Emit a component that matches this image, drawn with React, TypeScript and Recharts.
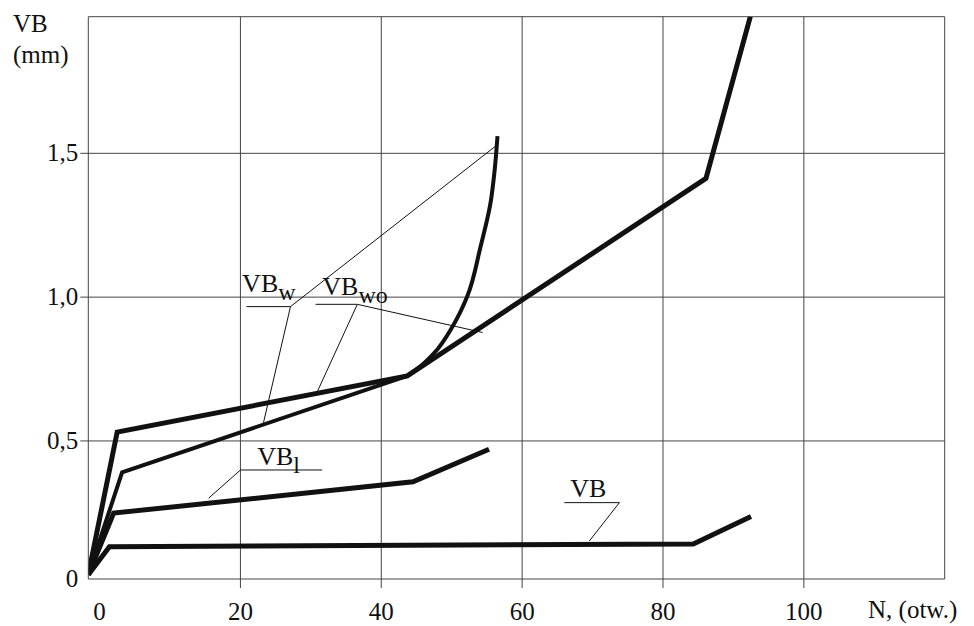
import { Line, LineChart, ReferenceDot, ReferenceLine, XAxis, YAxis } from 'recharts'

const FONT = "'Liberation Serif', 'Times New Roman', Times, Tinos, 'Noto Serif', 'DejaVu Serif', FreeSerif, serif"
const INK = '#111'
const GRID = '#444'

// wear curves, N (holes) vs VB (mm)
const VB_X = [-1.6, 1.4, 84.3, 92.5]
const VB_Y = [0.035, 0.132, 0.142, 0.237]

const VBL_X = [-1.6, 2.0, 44.5, 55.3]
const VBL_Y = [0.035, 0.249, 0.358, 0.471]

const VBWO_X = [-1.6, 2.5, 43.7, 86.1, 92.4]
const VBWO_Y = [0.035, 0.531, 0.726, 1.413, 1.975]

const VBW_X = [-1.6, 3.2, 43.7]
const VBW_Y = [0.035, 0.391, 0.726]

const VBW_CURVE_X = [43.7, 45.6, 47.5, 50.1, 52.2, 54.1, 55.5, 56.1, 56.5]
const VBW_CURVE_Y = [0.726, 0.76, 0.805, 0.897, 1.002, 1.176, 1.326, 1.442, 1.56]

const X_TICKS = [0, 20, 40, 60, 80, 100]
const Y_TICKS = [0.02, 0.5, 1, 1.5]
const Y_TICK_LABELS = ['0', '0,5', '1,0', '1,5']
const GRID_X = [20, 40, 60, 80, 100]
const GRID_Y = [0.5, 1, 1.5]

const X_DOMAIN: [number, number] = [-1.6, 120]
const Y_DOMAIN: [number, number] = [0.02, 1.975]

const zip = (xs: number[], ys: number[]) => xs.map((x, i) => ({ x, y: ys[i] }))

const LABELS = [
  { text: 'VB', sub: 'w', x: 20.24, y: 1.018 },
  { text: 'VB', sub: 'wo', x: 31.62, y: 1.008 },
  { text: 'VB', sub: 'l', x: 22.38, y: 0.417 },
  { text: 'VB', sub: '', x: 66.84, y: 0.306 },
]

// underline + leader lines of the labels
const LEADERS: Array<[number, number, number, number]> = [
  [20.85, 0.967, 27.11, 0.967],
  [27.11, 0.967, 23.27, 0.563],
  [27.11, 0.967, 56.28, 1.526],
  [30.67, 0.975, 36.6, 0.975],
  [36.6, 0.975, 30.91, 0.671],
  [36.6, 0.975, 54.38, 0.877],
  [20.0, 0.399, 31.62, 0.399],
  [20.0, 0.399, 15.49, 0.301],
  [65.99, 0.2855, 73.81, 0.2855],
  [73.81, 0.2855, 69.54, 0.152],
]

function XTick({ x, y, payload }: any) {
  const v = payload.value
  return (
    <g>
      {v !== 0 && <line x1={x} x2={x} y1={y} y2={y + 9} stroke={GRID} />}
      <text x={x} y={y + 41} textAnchor="middle" style={{ fontFamily: FONT }} fontSize={25} fill={INK}>
        {v}
      </text>
    </g>
  )
}

function YTick({ x, y, payload, index }: any) {
  const v = payload.value
  return (
    <g>
      {v > 0.1 && <line x1={x - 8} x2={x} y1={y} y2={y} stroke={GRID} />}
      <text x={x - 10} y={y + 8} textAnchor="end" style={{ fontFamily: FONT }} fontSize={25} fill={INK}>
        {Y_TICK_LABELS[index]}
      </text>
    </g>
  )
}

function labelShape(text: string, sub: string) {
  return (props: any) => (
    <text x={props.cx} y={props.cy} style={{ fontFamily: FONT }} fontSize={26} fill={INK}>
      {text}
      {sub && (
        <tspan dy={8} fontSize={24}>
          {sub}
        </tspan>
      )}
    </text>
  )
}

export default function App() {
  return (
    <div style={{ position: 'relative', width: 966, height: 618, fontFamily: FONT }}>
      <div style={{ position: 'absolute', left: 5, top: 0, fontSize: 25, lineHeight: '31px', color: INK }}>
        VB
        <br />
        (mm)
      </div>
      <div style={{ position: 'absolute', left: 860, top: 588, fontSize: 25, color: INK }}>N, (otw.)</div>
      <LineChart width={966} height={618} margin={{ top: 8.7, right: 29.3, bottom: 0, left: 0 }} style={{ fontFamily: FONT }}>
        <XAxis
          type="number"
          dataKey="x"
          domain={X_DOMAIN}
          allowDataOverflow
          ticks={X_TICKS}
          tick={<XTick />}
          tickLine={false}
          tickSize={0}
          tickMargin={0}
          height={47}
          axisLine={{ stroke: GRID }}
        />
        <YAxis
          type="number"
          dataKey="y"
          domain={Y_DOMAIN}
          allowDataOverflow
          ticks={Y_TICKS}
          tick={<YTick />}
          tickLine={false}
          tickSize={0}
          tickMargin={0}
          width={80.3}
          axisLine={{ stroke: GRID }}
        />
        {GRID_X.map((v) => (
          <ReferenceLine key={'gx' + v} x={v} stroke={GRID} strokeWidth={1} />
        ))}
        {GRID_Y.map((v) => (
          <ReferenceLine key={'gy' + v} y={v} stroke={GRID} strokeWidth={1} />
        ))}
        <ReferenceLine x={X_DOMAIN[1]} stroke={GRID} />
        <ReferenceLine y={Y_DOMAIN[1]} stroke={GRID} />
        {LEADERS.map((s, i) => (
          <ReferenceLine
            key={'ld' + i}
            segment={[{ x: s[0], y: s[1] }, { x: s[2], y: s[3] }]}
            stroke={INK}
            strokeWidth={1}
          />
        ))}
        <Line data={zip(VB_X, VB_Y)} dataKey="y" type="linear" stroke={INK} strokeWidth={5} dot={false} isAnimationActive={false} />
        <Line data={zip(VBL_X, VBL_Y)} dataKey="y" type="linear" stroke={INK} strokeWidth={5} dot={false} isAnimationActive={false} />
        <Line data={zip(VBW_X, VBW_Y)} dataKey="y" type="linear" stroke={INK} strokeWidth={4} dot={false} isAnimationActive={false} />
        <Line data={zip(VBW_CURVE_X, VBW_CURVE_Y)} dataKey="y" type="monotoneY" stroke={INK} strokeWidth={4} dot={false} isAnimationActive={false} />
        <Line data={zip(VBWO_X, VBWO_Y)} dataKey="y" type="linear" stroke={INK} strokeWidth={5} dot={false} isAnimationActive={false} />
        {LABELS.map((l, i) => (
          <ReferenceDot key={'lb' + i} x={l.x} y={l.y} r={0} shape={labelShape(l.text, l.sub)} />
        ))}
      </LineChart>
    </div>
  )
}
